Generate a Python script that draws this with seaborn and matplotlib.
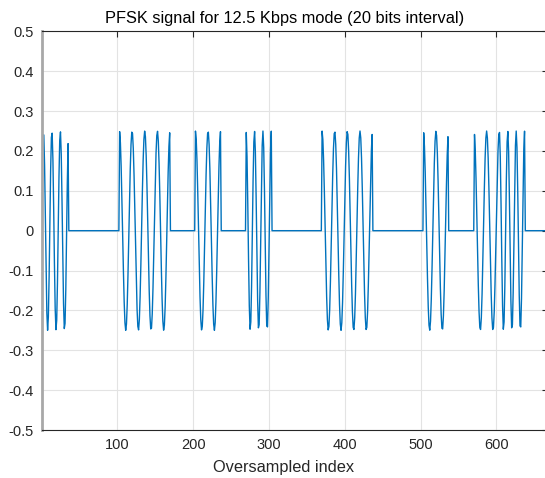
import numpy as np
import matplotlib
matplotlib.use("Agg")
import matplotlib.pyplot as plt
import seaborn as sns

# bit symbols: "0" = silent, "A" = 2 cycles per bit, "B" = 3 cycles per bit
SYMBOLS = ["B", "0", "0", "A", "A", "0", "A", "0", "B", "0",
           "0", "A", "A", "0", "0", "A", "0", "A", "B", "0"]
CYCLES = {"0": 0, "A": 2, "B": 3}
AMPLITUDE = 0.25
SAMPLES_PER_BIT = 33.4
BIT_OFFSET = 1.5
N_SAMPLES = 668

X_TICKS = [100, 200, 300, 400, 500, 600]
Y_TICKS = [0.5, 0.4, 0.3, 0.2, 0.1, 0, -0.1, -0.2, -0.3, -0.4, -0.5]

# build the oversampled signal from the bit symbols
idx = np.arange(1, N_SAMPLES + 1)
pos = (idx - 1 - BIT_OFFSET) / SAMPLES_PER_BIT
bit = np.clip(np.floor(pos).astype(int), 0, len(SYMBOLS) - 1)
frac = pos - bit
cyc = np.array([CYCLES[SYMBOLS[b]] for b in bit])
signal = np.where(cyc > 0, AMPLITUDE * np.cos(2 * np.pi * cyc * frac), 0.0)

sns.set_style("white")
plt.rcParams["font.family"] = ["Liberation Sans", "DejaVu Sans"]
plt.rcParams["axes.unicode_minus"] = False

fig = plt.figure(figsize=(5.45, 4.78), dpi=100)
ax = fig.add_axes([0.0776, 0.1004, 0.928, 0.834])

sns.lineplot(x=idx, y=signal, ax=ax, color="#0072BD", linewidth=1.0,
             estimator=None, sort=False)

ax.set_xlim(1, N_SAMPLES)
ax.set_ylim(-0.5, 0.5)
ax.set_xticks(X_TICKS)
ax.set_yticks(Y_TICKS)
ax.set_yticklabels([f"{v:g}" for v in Y_TICKS])
ax.grid(True, color="#e3e3e3", linewidth=0.8)
ax.set_axisbelow(True)

for side in ["top", "bottom", "right"]:
    ax.spines[side].set_color("#262626")
    ax.spines[side].set_linewidth(0.8)
ax.spines["left"].set_color("#a8a8a8")
ax.spines["left"].set_linewidth(2.0)

ax.tick_params(direction="in", length=4, width=0.8, colors="#262626",
               labelsize=10.5, top=True, right=True, pad=6)

ax.set_title("PFSK signal for 12.5 Kbps mode (20 bits interval)",
             fontsize=11.8, color="black", pad=6, x=0.479)
ax.set_xlabel("Oversampled index", fontsize=11.8, color="#262626", labelpad=4)
ax.xaxis.set_label_coords(0.477, -0.075)
ax.set_ylabel("")

fig.savefig("out.png", dpi=100)
